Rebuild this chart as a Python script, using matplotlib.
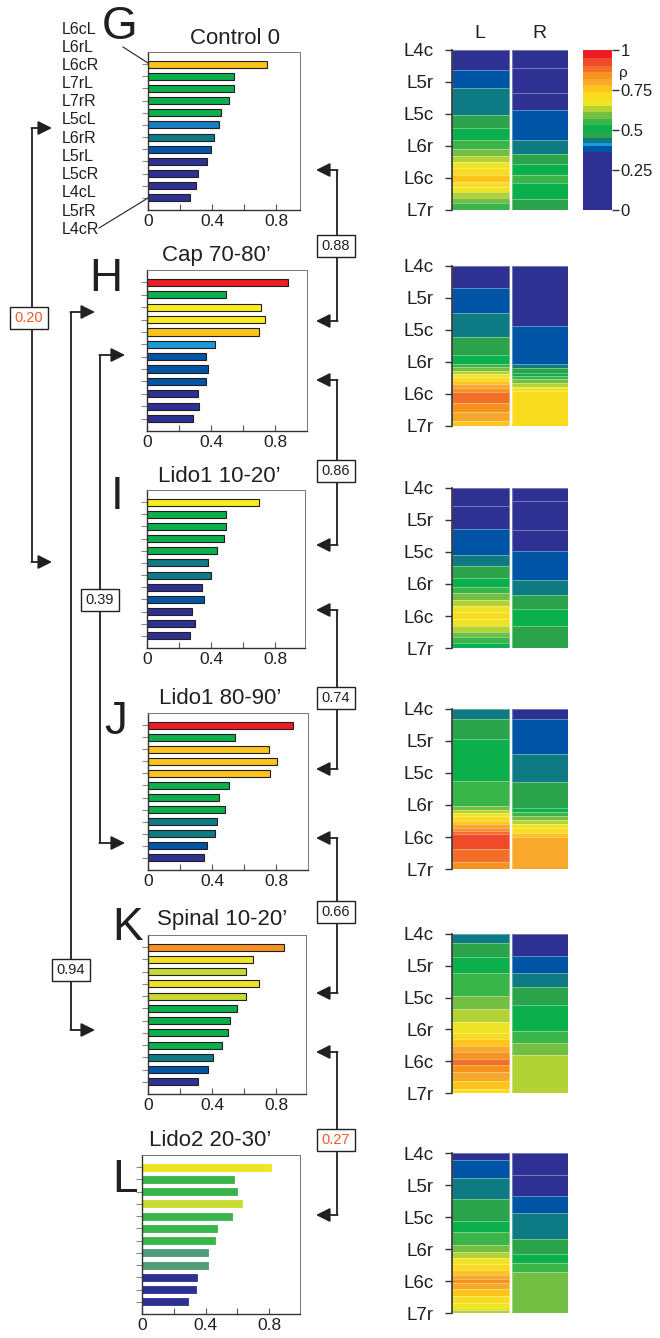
import matplotlib
matplotlib.use('Agg')
import matplotlib.pyplot as plt
import numpy as np
from matplotlib.colors import ListedColormap, BoundaryNorm
from matplotlib.cm import ScalarMappable

plt.rcParams['font.family'] = ['Liberation Sans', 'DejaVu Sans']

W, H = 660, 1338

# ---------------- palette / colour scale ----------------
PAL = {
    'navy': '#2E3192', 'blue': '#0054A6', 'mblue': '#1A7DC0', 'lblue': '#1C9AD6',
    'teal': '#0E7B84', 'dkgreen': '#2AA34B', 'green': '#0BAF4B', 'mgreen': '#3AB54A',
    'lgreen': '#72BF44', 'ygreen': '#B2D235', 'yellow': '#EEE425', 'byellow': '#F9ED1C',
    'yellow2': '#F9DC1E', 'gold': '#FCC41D', 'orangey': '#F8A92B', 'orange': '#F6921E',
    'dorange': '#F26F2A', 'redorange': '#EF4B2B', 'red': '#ED1C24', 'kygreen': '#C9DB2F',
    'gteal': '#4F9D78',
}
rho_bounds = [0, 0.36, 0.40, 0.42, 0.45, 0.49, 0.53, 0.57, 0.61, 0.65, 0.69, 0.74,
              0.78, 0.82, 0.86, 0.90, 0.95, 1.0]
rho_colors = ['navy', 'blue', 'lblue', 'teal', 'dkgreen', 'green', 'mgreen', 'lgreen',
              'ygreen', 'yellow', 'yellow2', 'gold', 'orangey', 'orange', 'dorange',
              'redorange', 'red']
cmap = ListedColormap([PAL[c] for c in rho_colors])
norm = BoundaryNorm(rho_bounds, cmap.N)

# ---------------- bar panels ----------------
panel_letters = ['G', 'H', 'I', 'J', 'K', 'L']
panel_titles = ['Control 0', 'Cap 70-80\u2019', 'Lido1 10-20\u2019', 'Lido1 80-90\u2019',
                'Spinal 10-20\u2019', 'Lido2 20-30\u2019']
bar_labels = ['L6cL', 'L6rL', 'L6cR', 'L7rL', 'L7rR', 'L5cL', 'L6rR', 'L5rL', 'L5cR',
              'L4cL', 'L5rR', 'L4cR']

g_vals = [0.743, 0.539, 0.537, 0.509, 0.457, 0.442, 0.413, 0.396, 0.371, 0.312, 0.301, 0.263]
h_vals = [0.877, 0.493, 0.709, 0.738, 0.698, 0.425, 0.369, 0.381, 0.365, 0.319, 0.325, 0.288]
i_vals = [0.696, 0.495, 0.495, 0.479, 0.435, 0.383, 0.400, 0.344, 0.358, 0.282, 0.296, 0.265]
j_vals = [0.904, 0.543, 0.752, 0.804, 0.761, 0.504, 0.444, 0.477, 0.431, 0.417, 0.367, 0.350]
k_vals = [0.846, 0.655, 0.611, 0.690, 0.611, 0.553, 0.510, 0.499, 0.464, 0.408, 0.371, 0.313]
l_vals = [0.813, 0.576, 0.599, 0.626, 0.563, 0.473, 0.458, 0.418, 0.412, 0.349, 0.340, 0.288]

g_cols = ['gold', 'green', 'green', 'green', 'green', 'mblue', 'teal', 'blue', 'navy', 'navy', 'navy', 'navy']
h_cols = ['red', 'green', 'byellow', 'byellow', 'gold', 'lblue', 'blue', 'blue', 'blue', 'navy', 'navy', 'navy']
i_cols = ['byellow', 'green', 'green', 'green', 'green', 'teal', 'teal', 'navy', 'blue', 'navy', 'navy', 'navy']
j_cols = ['red', 'green', 'gold', 'gold', 'gold', 'green', 'green', 'green', 'teal', 'teal', 'blue', 'navy']
k_cols = ['orange', 'yellow', 'kygreen', 'yellow', 'kygreen', 'green', 'green', 'green', 'green', 'teal', 'blue', 'navy']
l_cols = ['yellow', 'mgreen', 'mgreen', 'kygreen', 'mgreen', 'mgreen', 'mgreen', 'gteal', 'gteal', 'navy', 'navy', 'navy']

bar_values = [g_vals, h_vals, i_vals, j_vals, k_vals, l_vals]
bar_colors = [g_cols, h_cols, i_cols, j_cols, k_cols, l_cols]

# ---------------- heat maps (band edges along L4c..L7r, rho per band) ----------------
seg_labels = ['L4c', 'L5r', 'L5c', 'L6r', 'L6c', 'L7r']

g_L_edges = [0, 0.625, 1.2, 2.03, 2.43, 2.81, 3.10, 3.31, 3.49, 3.70, 3.91, 4.11, 4.27, 4.43, 4.64, 4.79, 5.0]
g_L_rho = [0.20, 0.38, 0.435, 0.47, 0.51, 0.55, 0.59, 0.63, 0.67, 0.715, 0.76, 0.715, 0.67, 0.63, 0.59, 0.55]
g_R_edges = [0, 0.57, 1.33, 1.875, 2.81, 3.25, 3.57, 3.91, 4.17, 4.67, 5.0]
g_R_rho = [0.20, 0.22, 0.24, 0.38, 0.435, 0.47, 0.51, 0.55, 0.51, 0.47]

h_L_edges = [0, 0.70, 1.48, 2.21, 2.78, 3.07, 3.17, 3.27, 3.38, 3.48, 3.59, 3.70, 3.81, 3.93, 4.28, 4.56, 4.85, 5.0]
h_L_rho = [0.20, 0.38, 0.435, 0.47, 0.51, 0.55, 0.59, 0.63, 0.67, 0.715, 0.76, 0.80, 0.84, 0.88, 0.84, 0.80, 0.76]
h_R_edges = [0, 1.88, 3.07, 3.20, 3.33, 3.44, 3.54, 3.67, 3.79, 3.90, 5.0]
h_R_rho = [0.20, 0.38, 0.435, 0.47, 0.51, 0.55, 0.59, 0.63, 0.67, 0.715]

i_L_edges = [0, 0.55, 1.28, 2.10, 2.45, 2.81, 3.09, 3.28, 3.49, 3.68, 3.89, 4.10, 4.31, 4.50, 4.66, 4.83, 5.0]
i_L_rho = [0.20, 0.22, 0.38, 0.435, 0.47, 0.51, 0.55, 0.59, 0.63, 0.67, 0.715, 0.67, 0.63, 0.59, 0.55, 0.51]
i_R_edges = [0, 0.40, 1.30, 1.98, 2.86, 3.33, 3.77, 4.32, 5.0]
i_R_rho = [0.20, 0.22, 0.24, 0.38, 0.435, 0.47, 0.51, 0.47]

j_L_edges = [0, 0.31, 0.95, 2.24, 3.04, 3.15, 3.25, 3.35, 3.50, 3.60, 3.71, 3.81, 3.92, 4.36, 4.77, 5.0]
j_L_rho = [0.435, 0.47, 0.51, 0.55, 0.59, 0.63, 0.67, 0.715, 0.76, 0.80, 0.84, 0.88, 0.925, 0.88, 0.84]
j_R_edges = [0, 0.31, 1.41, 2.28, 3.09, 3.23, 3.34, 3.47, 3.59, 3.72, 3.86, 3.99, 5.0]
j_R_rho = [0.20, 0.38, 0.435, 0.47, 0.51, 0.55, 0.59, 0.63, 0.67, 0.715, 0.76, 0.80]

k_L_edges = [0, 0.29, 0.73, 1.23, 1.94, 2.36, 2.76, 3.10, 3.31, 3.51, 3.72, 3.93, 4.12, 4.35, 4.62, 4.87, 5.0]
k_L_rho = [0.435, 0.47, 0.51, 0.55, 0.59, 0.63, 0.67, 0.715, 0.76, 0.80, 0.84, 0.88, 0.84, 0.80, 0.76, 0.715]
k_R_edges = [0, 0.69, 1.23, 1.67, 2.22, 3.05, 3.43, 3.81, 5.0]
k_R_rho = [0.20, 0.38, 0.435, 0.47, 0.51, 0.55, 0.59, 0.63]

l_L_edges = [0, 0.21, 0.77, 1.45, 2.12, 2.48, 2.88, 3.10, 3.29, 3.46, 3.65, 3.81, 3.94, 4.07, 4.25, 4.46, 4.69, 4.92, 5.0]
l_L_rho = [0.20, 0.38, 0.435, 0.47, 0.51, 0.55, 0.59, 0.63, 0.67, 0.715, 0.76, 0.80, 0.84, 0.80, 0.76, 0.715, 0.67, 0.63]
l_R_edges = [0, 0.70, 1.33, 1.86, 2.68, 3.17, 3.44, 3.72, 5.0]
l_R_rho = [0.20, 0.22, 0.38, 0.435, 0.47, 0.51, 0.55, 0.59]

heat_L = [(g_L_edges, g_L_rho), (h_L_edges, h_L_rho), (i_L_edges, i_L_rho),
          (j_L_edges, j_L_rho), (k_L_edges, k_L_rho), (l_L_edges, l_L_rho)]
heat_R = [(g_R_edges, g_R_rho), (h_R_edges, h_R_rho), (i_R_edges, i_R_rho),
          (j_R_edges, j_R_rho), (k_R_edges, k_R_rho), (l_R_edges, l_R_rho)]

# ---------------- similarity brackets ----------------
right_sim = [0.88, 0.86, 0.74, 0.66, 0.27]
left_sim = [0.20, 0.94, 0.39]
sim_red = ['0.20', '0.27']

# ================= layout =================
fig = plt.figure(figsize=(W / 100, H / 100), dpi=100)
fig.patch.set_facecolor('white')


def px_axes(l, t, r, b):
    return fig.add_axes([l / W, 1 - b / H, (r - l) / W, (b - t) / H])


INK = '#231F20'
bar_boxes = [(148, 52, 300, 210), (147, 270, 307, 431), (147, 490, 305, 648),
             (148, 713, 308, 870), (148, 935, 306, 1094), (142, 1155, 300, 1314)]
px_per_unit = [160, 160.5, 160.5, 160.5, 160.5, 159]

for k in range(6):
    l, t, r, b = bar_boxes[k]
    ax = px_axes(l, t, r, b)
    y = np.arange(len(bar_values[k]))
    if k == 5:
        ax.barh(y, bar_values[k], height=0.58, color=[PAL[c] for c in bar_colors[k]],
                edgecolor=[PAL[c] for c in bar_colors[k]], linewidth=0.6)
    else:
        ax.barh(y, bar_values[k], height=0.58, color=[PAL[c] for c in bar_colors[k]],
                edgecolor=INK, linewidth=0.8)
    ax.set_ylim(len(y) - 1 + 1.0, -1.0)
    ax.set_xlim(0, (r - l) / px_per_unit[k])
    ax.set_xticks([0, 0.2, 0.4, 0.6, 0.8])
    ax.set_xticklabels(['0', '', '0.4', '', '0.8'])
    ax.tick_params(axis='x', direction='in', length=4, labelsize=12.5, pad=3,
                   color='#555555', labelcolor=INK)
    ax.set_yticks(y)
    ax.set_yticklabels([])
    ax.tick_params(axis='y', direction='out', length=4, color='#888888', width=0.8)
    for s in ['left', 'bottom']:
        ax.spines[s].set_color('#333333')
        ax.spines[s].set_linewidth(1.0)
    for s in ['top', 'right']:
        ax.spines[s].set_color('#777777')
        ax.spines[s].set_linewidth(0.7)

heat_boxes = [(50, 210), (266, 426), (488, 648), (709, 869), (934, 1093), (1153, 1313)]
HX0, HX1 = 452, 568
for k in range(6):
    t, b = heat_boxes[k]
    ax = px_axes(HX0, t, HX1, b)
    for (edges, rho), (x0, x1) in [(heat_L[k], (0, 1.0)), (heat_R[k], (1.055, 2.05))]:
        C = np.array(rho).reshape(-1, 1)
        ax.pcolormesh([x0, x1], edges, C, cmap=cmap, norm=norm,
                      edgecolors=(1, 1, 1, 0.35), linewidth=0.5)
    ax.set_xlim(0, 2.05)
    ax.set_ylim(5, 0)
    ax.set_yticks(range(6))
    ax.set_yticklabels(seg_labels, fontsize=13.5, color=INK)
    ax.tick_params(axis='y', direction='out', length=5, pad=8, color='#333333', width=1)
    ax.set_xticks([])
    for s in ['top', 'right', 'bottom']:
        ax.spines[s].set_visible(False)
    ax.spines['left'].set_color('#333333')
    ax.spines['left'].set_linewidth(1.2)

# colour bar
cax = px_axes(583, 50, 612, 210)
cb = fig.colorbar(ScalarMappable(norm=norm, cmap=cmap), cax=cax, spacing='proportional',
                  ticks=[0, 0.25, 0.5, 0.75, 1])
cb.ax.minorticks_off()
cb.ax.set_yticks([0, 0.25, 0.5, 0.75, 1])
cb.ax.set_yticklabels(['0', '0.25', '0.5', '0.75', '1'], fontsize=12, color=INK)
cb.ax.tick_params(which='major', length=5, pad=1, width=1, color='#333333')
cb.ax.tick_params(which='minor', length=0)
cb.outline.set_visible(False)

# ================= overlay: text, letters, brackets =================
ov = fig.add_axes([0, 0, 1, 1])
ov.set_xlim(0, W)
ov.set_ylim(H, 0)
ov.axis('off')

letter_pos = [(120, 27), (106, 279), (117, 497), (116, 722), (128, 928), (125, 1180)]
title_pos = [(235, 38), (216, 256), (219, 476), (220, 698), (222, 920), (210, 1140)]
for k in range(6):
    ov.text(*letter_pos[k], panel_letters[k], fontsize=33, ha='center', va='center', color=INK)
    ov.text(*title_pos[k], panel_titles[k], fontsize=16, ha='center', va='center', color=INK)

for i, lab in enumerate(bar_labels):
    ov.text(62, 29 + 18.2 * i, lab, fontsize=11.5, ha='left', va='center', color=INK)
ov.plot([123, 148], [47, 63], color=INK, lw=0.8)
ov.plot([99, 148], [228, 198], color=INK, lw=0.8)

ov.text(480, 33, 'L', fontsize=14, ha='center', va='center', color=INK)
ov.text(539, 33, 'R', fontsize=14, ha='center', va='center', color=INK)
ov.text(623, 73, '\u03c1', fontsize=11, ha='center', va='center', color=INK)

AP = dict(arrowstyle='-|>,head_length=0.7,head_width=0.35', color=INK, lw=1.3,
          shrinkA=0, shrinkB=0, mutation_scale=12)


def bracket(xline, y1, y2, xtip, label, ybox, xbox):
    ov.plot([xline, xline], [y1, y2], color=INK, lw=1.3, solid_capstyle='butt')
    for yy in (y1, y2):
        ov.annotate('', xy=(xtip, yy), xytext=(xline - (0.6 if xtip > xline else -0.6), yy),
                    arrowprops=AP)
    txt = '%.2f' % label
    ov.text(xbox, ybox, txt, fontsize=10.5, ha='center', va='center',
            color='#F15A29' if txt in sim_red else INK,
            bbox=dict(boxstyle='square,pad=0.3', fc='white', ec=INK, lw=1.0))


right_spans = [(170, 321, 246), (380, 545, 471), (610, 769, 698), (838, 993, 912), (1052, 1215, 1140)]
for v, (y1, y2, yb) in zip(right_sim, right_spans):
    bracket(337, y1, y2, 316, v, yb, 336)

left_spans = [(32, 128, 562, 52, 318, 29), (71, 312, 1030, 95, 970, 71), (100, 355, 843, 125, 600, 100)]
for v, (xl, y1, y2, xt, yb, xb) in zip(left_sim, left_spans):
    bracket(xl, y1, y2, xt, v, yb, xb)

fig.savefig('out.png', dpi=100, facecolor='white')
